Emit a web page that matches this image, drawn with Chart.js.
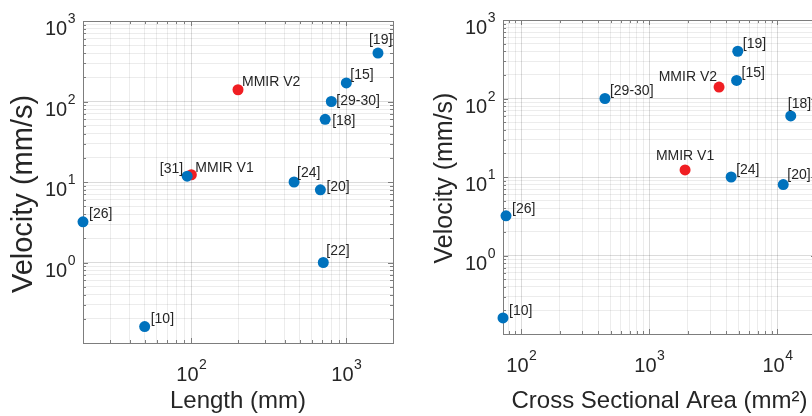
<!DOCTYPE html>
<html><head><meta charset="utf-8">
<script src="https://cdn.jsdelivr.net/npm/chart.js@4.4.1/dist/chart.umd.min.js"></script>
<style>
html,body{margin:0;padding:0;background:#fff;overflow:hidden;width:812px;height:416px;}
#wrapA{position:absolute;left:0;top:0;width:406px;height:416px;}
#wrapB{position:absolute;left:406px;top:0;width:420px;height:416px;}
</style></head><body>
<div id="wrapA"><canvas id="cA" width="406" height="416"></canvas></div>
<div id="wrapB"><canvas id="cB" width="420" height="416"></canvas></div>
<script>
// ---- data ----
const refLabels   = ['[19]', '[15]', '[29-30]', '[18]', '[31]', '[24]', '[20]', '[26]', '[22]', '[10]'];
const refVelocity = [400, 170, 100, 60, 11.8, 10, 8, 3.2, 1, 0.16];
const refLength   = [1600, 1000, 800, 730, 94, 460, 680, 20, 710, 50];
const refArea     = [4900, 4800, 450, 12700, null, 4350, 11100, 76, null, 72];
const mmirLabels   = ['MMIR V1', 'MMIR V2'];
const mmirVelocity = [12.3, 140];
const mmirLength   = [100, 200];
const mmirArea     = [1900, 3500];
const velocityTickExps = [0, 1, 2, 3];
const lengthTickExps   = [2, 3];
const areaTickExps     = [2, 3, 4];
const velocityRange = [0.1, 1000];
const lengthRange   = [20, 2000];
const areaRange     = [72, 20000];
const velocityTitle = 'Velocity (mm/s)';
const lengthTitle   = 'Length (mm)';
const areaTitle     = 'Cross Sectional Area (mm\u00B2)';

// ---- label placement (pixel offsets from marker centre) ----
const lengthLabelPos = {
  '[19]': [-9, -13, 'left'], '[15]': [4, -8, 'left'], '[29-30]': [5, 0, 'left'],
  '[18]': [7, 2, 'left'], 'MMIR V2': [4, -8, 'left'], '[31]': [-4, -7, 'right'],
  'MMIR V1': [4, -7, 'left'], '[24]': [3, -9, 'left'], '[20]': [6, -3, 'left'],
  '[26]': [6, -8, 'left'], '[22]': [3, -11, 'left'], '[10]': [6, -7, 'left']
};
const areaLabelPos = {
  '[19]': [5, -7, 'left'], '[15]': [5, -7, 'left'], 'MMIR V2': [-2, -10, 'right'],
  '[29-30]': [5, -7, 'left'], '[18]': [-3, -12, 'left'], 'MMIR V1': [0, -14, 'center'],
  '[24]': [5, -7, 'left'], '[20]': [4, -9, 'left'], '[26]': [6, -7, 'left'], '[10]': [6, -7, 'left']
};

const FONT = '"Liberation Sans", Arial, Helvetica, sans-serif';
const BLUE = '#0072BD', RED = '#f01e23';
const BOX = '#7d7d7d', TXT = '#262626';

function logTicks(min, max) {
  const out = [];
  for (let e = Math.floor(Math.log10(min)); e <= Math.ceil(Math.log10(max)); e++) {
    for (let m = 1; m <= 9; m++) {
      const v = +(m * Math.pow(10, e)).toPrecision(8);
      if (v >= min * 0.9999 && v <= max * 1.0001) out.push({ value: v, major: m === 1 });
    }
  }
  return out;
}

function makePlugin(xExps, yExps, labelPos, lay) {
  return {
    id: 'matlabAxes',
    beforeDatasetsDraw(chart) {
      const { ctx, chartArea: a, scales } = chart;
      ctx.save();
      ctx.strokeStyle = BOX; ctx.lineWidth = 1;
      ctx.strokeRect(Math.round(a.left) + 0.5, Math.round(a.top) + 0.5,
                     Math.round(a.right - a.left), Math.round(a.bottom - a.top));
      ctx.beginPath();
      scales.x.ticks.forEach(t => {
        const px = Math.round(scales.x.getPixelForValue(t.value)) + 0.5;
        const len = t.major ? 5 : 3;
        ctx.moveTo(px, a.bottom); ctx.lineTo(px, a.bottom - len);
        ctx.moveTo(px, a.top); ctx.lineTo(px, a.top + len);
      });
      scales.y.ticks.forEach(t => {
        const py = Math.round(scales.y.getPixelForValue(t.value)) + 0.5;
        const len = t.major ? 5 : 3;
        ctx.moveTo(a.left, py); ctx.lineTo(a.left + len, py);
        ctx.moveTo(a.right, py); ctx.lineTo(a.right - len, py);
      });
      ctx.stroke();
      ctx.restore();
    },
    afterDatasetsDraw(chart) {
      const { ctx, chartArea: a, scales } = chart;
      ctx.save();
      ctx.fillStyle = TXT;
      ctx.textBaseline = 'alphabetic';
      const big = '20px ' + FONT, small = '14px ' + FONT;
      const measure = (e) => {
        ctx.font = big; const w1 = ctx.measureText('10').width;
        ctx.font = small; const w2 = ctx.measureText(String(e)).width;
        return [w1, w2];
      };
      const draw10 = (e, x0, base) => {
        const [w1] = measure(e);
        ctx.textAlign = 'left';
        ctx.font = big; ctx.fillText('10', x0, base);
        ctx.font = small; ctx.fillText(String(e), x0 + w1 + 0.5, base - 12);
      };
      xExps.forEach(e => {
        const px = scales.x.getPixelForValue(Math.pow(10, e));
        const [w1, w2] = measure(e);
        draw10(e, px - (w1 + w2) / 2, a.bottom + 38);
      });
      yExps.forEach(e => {
        const py = scales.y.getPixelForValue(Math.pow(10, e));
        const [w1, w2] = measure(e);
        draw10(e, a.left - 8 - (w1 + w2), py + 14);
      });
      // y-axis title (rotated)
      ctx.save();
      ctx.translate(lay.ytx, lay.ytcy);
      ctx.rotate(-Math.PI / 2);
      ctx.font = lay.yts + 'px ' + FONT;
      ctx.textAlign = 'center';
      ctx.textBaseline = 'alphabetic';
      ctx.fillText(velocityTitle, 0, 0);
      ctx.restore();
      // point labels
      ctx.font = '14px ' + FONT;
      ctx.textBaseline = 'middle';
      chart.data.datasets.forEach((ds, di) => {
        const meta = chart.getDatasetMeta(di);
        meta.data.forEach((pt, i) => {
          const lab = ds.data[i].label;
          const p = labelPos[lab] || [5, -7, 'left'];
          ctx.textAlign = p[2];
          ctx.fillText(lab, pt.x + p[0], pt.y + p[1]);
        });
      });
      ctx.restore();
    }
  };
}

function buildChart(canvasId, xVals, xRange, xTitle, xExps, labelPos, lay) {
  const refPts = refLabels.map((l, i) => ({ x: xVals.ref[i], y: refVelocity[i], label: l }))
                          .filter(p => p.x !== null);
  const mmirPts = mmirLabels.map((l, i) => ({ x: xVals.mmir[i], y: mmirVelocity[i], label: l }));
  const gridColor = (c) => (c.tick && c.tick.major) ? 'rgba(0,0,0,0.14)' : 'rgba(0,0,0,0.075)';
  return new Chart(document.getElementById(canvasId), {
    type: 'scatter',
    data: {
      datasets: [
        { label: 'Ref', data: refPts, backgroundColor: BLUE, borderColor: BLUE, pointRadius: 5.5, borderWidth: 0, clip: false },
        { label: 'MMIR', data: mmirPts, backgroundColor: RED, borderColor: RED, pointRadius: 5.5, borderWidth: 0, clip: false }
      ]
    },
    options: {
      responsive: false, animation: false, events: [],
      layout: { padding: { left: 0, top: lay.top, right: lay.right, bottom: 0 } },
      plugins: { legend: { display: false }, tooltip: { enabled: false } },
      scales: {
        x: {
          type: 'logarithmic', min: xRange[0], max: xRange[1],
          afterBuildTicks: s => { s.ticks = logTicks(xRange[0], xRange[1]); },
          afterFit: s => { s.height = lay.xh; },
          ticks: { display: false },
          grid: { color: gridColor, lineWidth: 1, drawTicks: false },
          border: { display: false },
          title: { display: true, text: xTitle, color: TXT, font: { family: FONT, size: 24 }, padding: { top: 0, bottom: lay.xtp } }
        },
        y: {
          type: 'logarithmic', min: velocityRange[0], max: velocityRange[1],
          afterBuildTicks: s => { s.ticks = logTicks(velocityRange[0], velocityRange[1]); },
          afterFit: s => { s.width = lay.yw; },
          ticks: { display: false },
          grid: { color: gridColor, lineWidth: 1, drawTicks: false },
          border: { display: false },
          title: { display: false, text: velocityTitle }
        }
      }
    },
    plugins: [makePlugin(xExps, velocityTickExps, labelPos, lay)]
  });
}

buildChart('cA', { ref: refLength, mmir: mmirLength }, lengthRange, lengthTitle, lengthTickExps, lengthLabelPos,
           { top: 21, right: 13, xh: 73, yw: 83, xtp: 0, yts: 29, ytx: 32, ytcy: 194 });
buildChart('cB', { ref: refArea, mmir: mmirArea }, areaRange, areaTitle, areaTickExps, areaLabelPos,
           { top: 20, right: 10, xh: 82, yw: 97, xtp: 0, yts: 25, ytx: 46, ytcy: 178 });
</script>
</body></html>
